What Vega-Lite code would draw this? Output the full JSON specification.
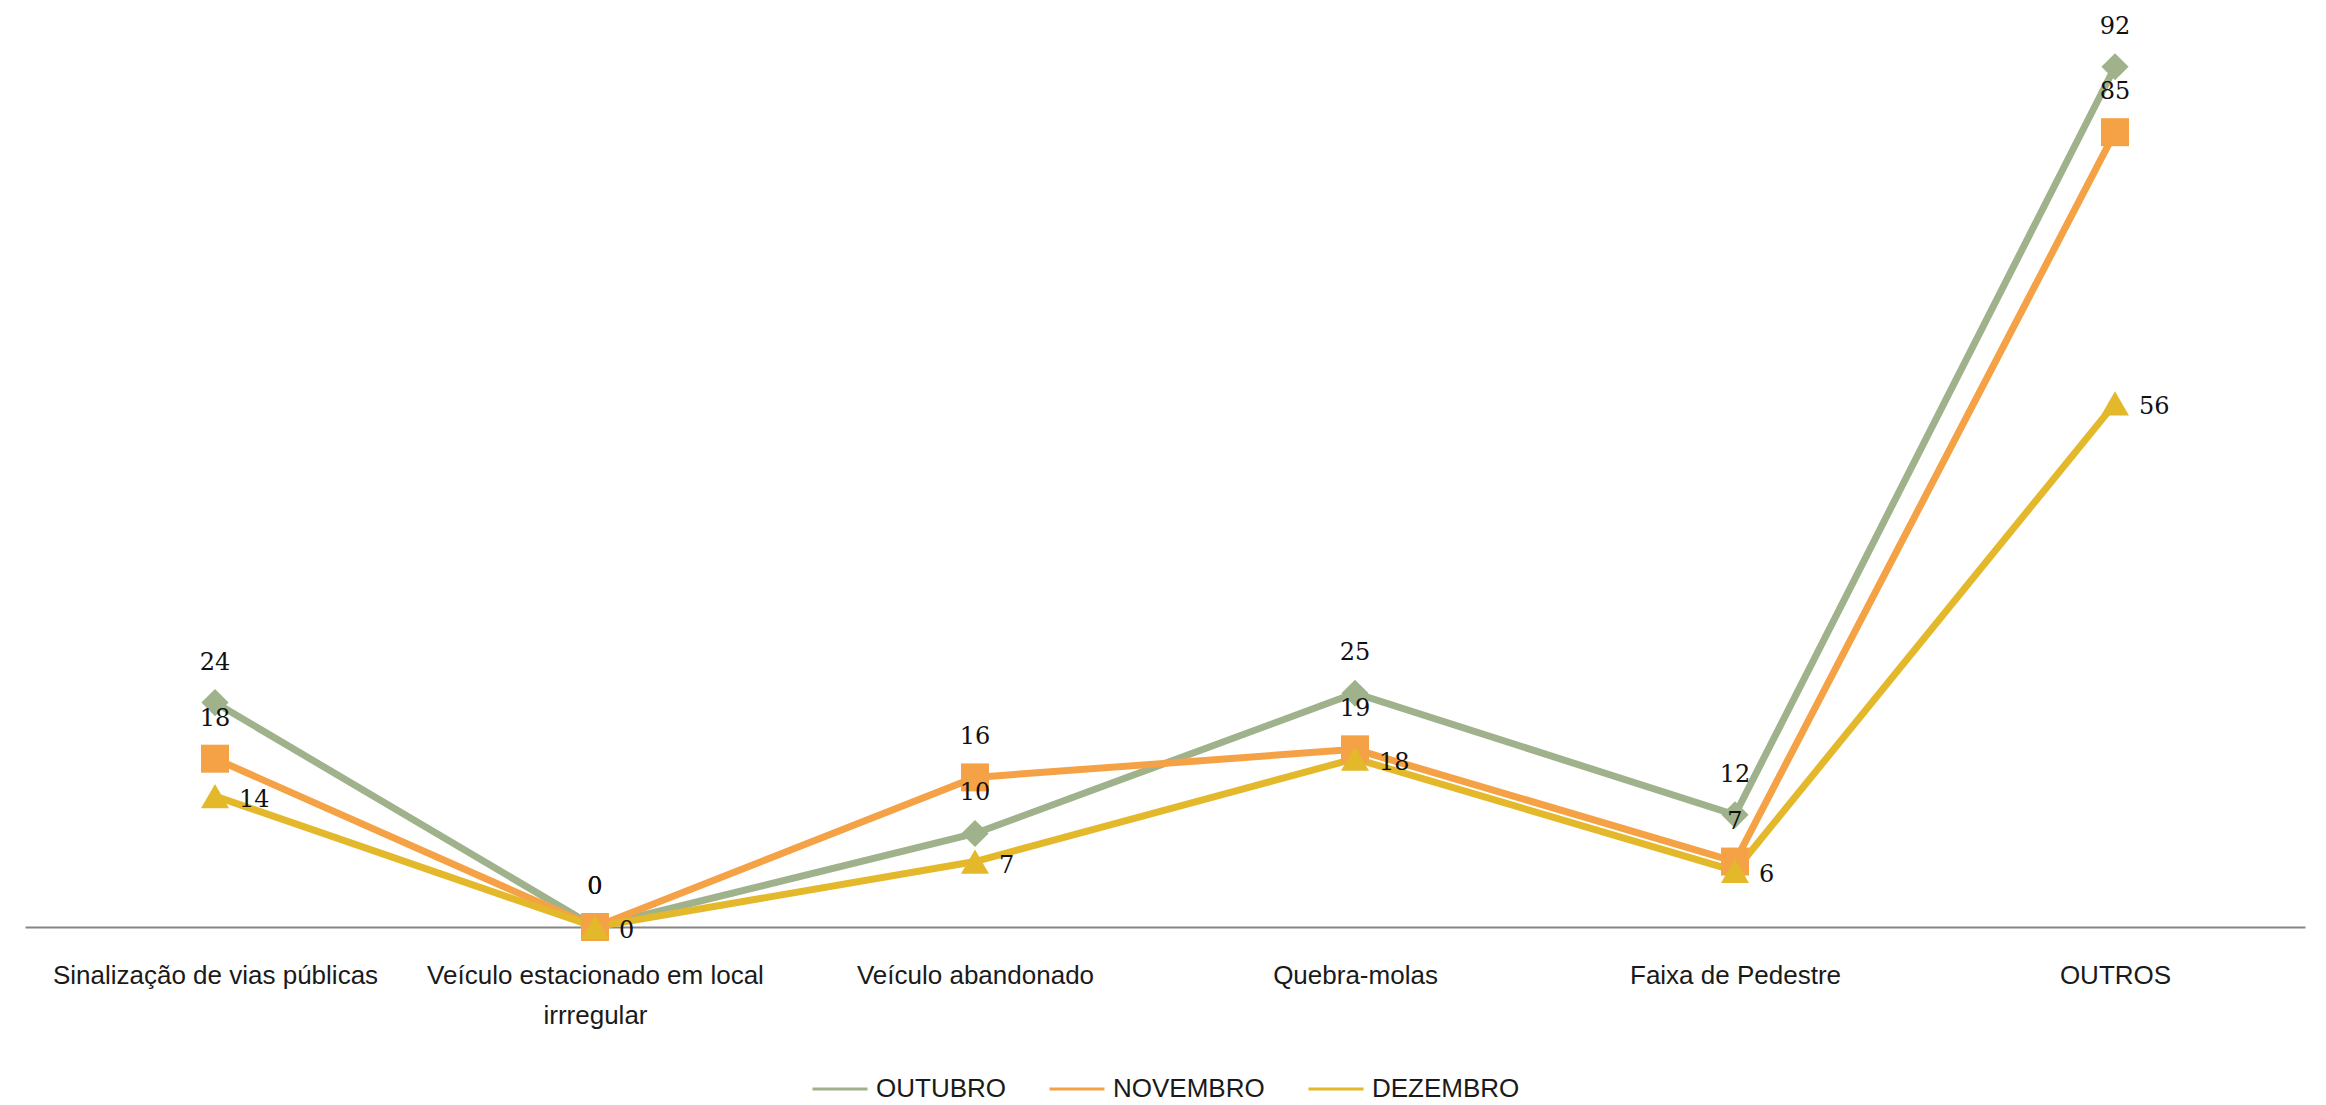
{
  "$schema": "https://vega.github.io/schema/vega-lite/v6.json",
  "width": 2280,
  "height": 907,
  "autosize": {"type": "none"},
  "padding": {"left": 25, "top": 20, "right": 21, "bottom": 178},
  "background": "white",
  "data": {
    "values": [
      {"categoria": "Sinalização de vias públicas", "serie": "OUTUBRO", "valor": 24},
      {"categoria": "Veículo estacionado em local irrregular", "serie": "OUTUBRO", "valor": 0},
      {"categoria": "Veículo abandonado", "serie": "OUTUBRO", "valor": 10},
      {"categoria": "Quebra-molas", "serie": "OUTUBRO", "valor": 25},
      {"categoria": "Faixa de Pedestre", "serie": "OUTUBRO", "valor": 12},
      {"categoria": "OUTROS", "serie": "OUTUBRO", "valor": 92},
      {"categoria": "Sinalização de vias públicas", "serie": "NOVEMBRO", "valor": 18},
      {"categoria": "Veículo estacionado em local irrregular", "serie": "NOVEMBRO", "valor": 0},
      {"categoria": "Veículo abandonado", "serie": "NOVEMBRO", "valor": 16},
      {"categoria": "Quebra-molas", "serie": "NOVEMBRO", "valor": 19},
      {"categoria": "Faixa de Pedestre", "serie": "NOVEMBRO", "valor": 7},
      {"categoria": "OUTROS", "serie": "NOVEMBRO", "valor": 85},
      {"categoria": "Sinalização de vias públicas", "serie": "DEZEMBRO", "valor": 14},
      {"categoria": "Veículo estacionado em local irrregular", "serie": "DEZEMBRO", "valor": 0},
      {"categoria": "Veículo abandonado", "serie": "DEZEMBRO", "valor": 7},
      {"categoria": "Quebra-molas", "serie": "DEZEMBRO", "valor": 18},
      {"categoria": "Faixa de Pedestre", "serie": "DEZEMBRO", "valor": 6},
      {"categoria": "OUTROS", "serie": "DEZEMBRO", "valor": 56}
    ]
  },
  "encoding": {
    "x": {
      "field": "categoria",
      "type": "nominal",
      "sort": ["Sinalização de vias públicas", "Veículo estacionado em local irrregular", "Veículo abandonado", "Quebra-molas", "Faixa de Pedestre", "OUTROS"],
      "scale": {"type": "point", "padding": 0.5},
      "axis": {
        "title": null,
        "labelAngle": 0,
        "ticks": false,
        "grid": false,
        "domainColor": "#868686",
        "domainWidth": 2,
        "labelFont": "Liberation Sans",
        "labelFontSize": 26,
        "labelColor": "#1a1a1a",
        "labelPadding": 35,
        "labelBaseline": "top",
        "labelLineHeight": 40,
        "labelLimit": 0,
        "labelExpr": "datum.label == 'Veículo estacionado em local irrregular' ? ['Veículo estacionado em local', 'irrregular'] : datum.label"
      }
    },
    "y": {
      "field": "valor",
      "type": "quantitative",
      "scale": {"domain": [0, 97], "nice": false, "zero": true},
      "axis": null
    }
  },
  "layer": [
    {
      "mark": {"type": "line", "strokeWidth": 7},
      "encoding": {
        "color": {
          "field": "serie",
          "type": "nominal",
          "scale": {"domain": ["OUTUBRO", "NOVEMBRO", "DEZEMBRO"], "range": ["#A0B28C", "#F4A245", "#E4B82B"]}
        }
      }
    },
    {
      "transform": [{"filter": "datum.serie === 'OUTUBRO'"}],
      "mark": {"type": "point", "filled": true, "opacity": 1, "size": 740, "shape": "diamond"},
      "encoding": {
        "color": {
          "field": "serie",
          "type": "nominal",
          "scale": {"domain": ["OUTUBRO", "NOVEMBRO", "DEZEMBRO"], "range": ["#A0B28C", "#F4A245", "#E4B82B"]},
          "legend": {
            "title": null,
            "orient": "bottom",
            "direction": "horizontal",
            "symbolSize": 3025,
            "symbolStrokeWidth": 3,
            "labelFont": "Liberation Sans",
            "labelFontSize": 26,
            "labelColor": "#1a1a1a",
            "labelLimit": 0,
            "labelOffset": 7,
            "columnPadding": 37,
            "offset": 32,
            "encode": {
              "symbols": {
                "shape": {
                  "condition": [
                    {"test": "datum.value === 'OUTUBRO'", "value": "M-1,-0.05H1V0.05H-1Z M0,-0.3L0.3,0L0,0.3L-0.3,0Z"},
                    {"test": "datum.value === 'NOVEMBRO'", "value": "M-1,-0.05H1V0.05H-1Z M-0.3,-0.3H0.3V0.3H-0.3Z"}
                  ],
                  "value": "M-1,-0.05H1V0.05H-1Z M0,-0.33L0.35,0.26H-0.35Z"
                }
              }
            }
          }
        }
      }
    },
    {
      "transform": [{"filter": "datum.serie === 'NOVEMBRO'"}],
      "mark": {"type": "point", "filled": true, "opacity": 1, "size": 784, "shape": "square"},
      "encoding": {
        "color": {
          "field": "serie",
          "type": "nominal",
          "scale": {"domain": ["OUTUBRO", "NOVEMBRO", "DEZEMBRO"], "range": ["#A0B28C", "#F4A245", "#E4B82B"]}
        }
      }
    },
    {
      "transform": [{"filter": "datum.serie === 'DEZEMBRO'"}],
      "mark": {"type": "point", "filled": true, "opacity": 1, "size": 784, "shape": "triangle-up"},
      "encoding": {
        "color": {
          "field": "serie",
          "type": "nominal",
          "scale": {"domain": ["OUTUBRO", "NOVEMBRO", "DEZEMBRO"], "range": ["#A0B28C", "#F4A245", "#E4B82B"]}
        }
      }
    },
    {
      "transform": [{"filter": "datum.serie !== 'DEZEMBRO'"}],
      "mark": {"type": "text", "font": "DejaVu Serif", "fontSize": 24, "color": "#111111", "align": "center", "baseline": "middle", "dy": -40},
      "encoding": {"text": {"field": "valor", "type": "quantitative"}}
    },
    {
      "transform": [{"filter": "datum.serie === 'DEZEMBRO'"}],
      "mark": {"type": "text", "font": "DejaVu Serif", "fontSize": 24, "color": "#111111", "align": "left", "baseline": "middle", "dx": 24, "dy": 4},
      "encoding": {"text": {"field": "valor", "type": "quantitative"}}
    }
  ],
  "config": {
    "view": {"stroke": null},
    "legend": {"layout": {"bottom": {"anchor": "middle"}}}
  }
}
